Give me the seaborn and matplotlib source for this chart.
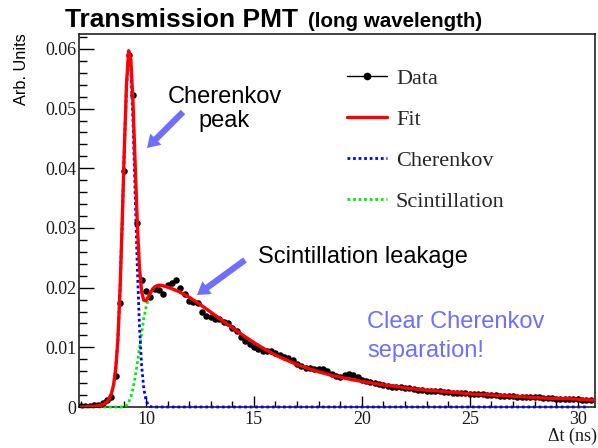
import numpy as np
import pandas as pd
import matplotlib
matplotlib.use("Agg")
import matplotlib.pyplot as plt
from matplotlib.lines import Line2D
from matplotlib.patches import ArrowStyle
from matplotlib.ticker import MultipleLocator, FixedLocator, FixedFormatter
import seaborn as sns

# ---- measured time-difference spectrum: 0.2 ns bins starting at 7.0 ns ----
bin_start = 7.0
bin_width = 0.2
counts = [
    0.0002, 0.0001, 0.0002, 0.0003, 0.0004,   # 7.0 - 7.8
    0.0006, 0.0012, 0.0017, 0.0052, 0.0174,   # 8.0 - 8.8
    0.0395, 0.0590, 0.0523, 0.0309, 0.0213,   # 9.0 - 9.8
    0.0194, 0.0184, 0.0197, 0.0196, 0.0190,   # 10
    0.0204, 0.0207, 0.0213, 0.0199, 0.0190,   # 11
    0.0178, 0.0176, 0.0175, 0.0160, 0.0152,   # 12
    0.0150, 0.0148, 0.0147, 0.0143, 0.0140,   # 13
    0.0132, 0.0127, 0.0118, 0.0110, 0.0106,   # 14
    0.0101, 0.0097, 0.0094, 0.0094, 0.0093,   # 15
    0.0090, 0.0087, 0.0084, 0.0082, 0.0078,   # 16
    0.0072, 0.0068, 0.0066, 0.0066, 0.0064,   # 17
    0.0064, 0.0063, 0.0060, 0.0056, 0.0052,   # 18
    0.0050, 0.0054, 0.0055, 0.0054, 0.0050,   # 19
    0.0046, 0.0043, 0.0042, 0.0041, 0.0039,   # 20
    0.0037, 0.0035, 0.0034, 0.0034, 0.0033,   # 21
    0.0032, 0.0031, 0.0030, 0.0029, 0.0028,   # 22
    0.0027, 0.0027, 0.0026, 0.0026, 0.0025,   # 23
    0.0025, 0.0024, 0.0024, 0.0023, 0.0024,   # 24
    0.0022, 0.0021, 0.0022, 0.0021, 0.0020,   # 25
    0.0020, 0.0020, 0.0019, 0.0019, 0.0018,   # 26
    0.0018, 0.0017, 0.0017, 0.0017, 0.0016,   # 27
    0.0016, 0.0016, 0.0015, 0.0015, 0.0015,   # 28
    0.0014, 0.0014, 0.0014, 0.0013, 0.0013,   # 29
    0.0013, 0.0012, 0.0012, 0.0011,           # 30
]

# ---- fitted components, sampled every 0.1 ns up to 11 ns, then every 0.5 ns ----
fit_t_fine = (7.0, 11.0, 0.1)
fit_t_coarse = (11.5, 31.0, 0.5)
cherenkov = [
    0.0000, 0.0000, 0.0000, 0.0001, 0.0001, 0.0001, 0.0001, 0.0002, 0.0002, 0.0003,
    0.0004, 0.0006, 0.0009, 0.0014, 0.0022, 0.0037, 0.0063, 0.0112, 0.0195, 0.0309,
    0.0433, 0.0538, 0.0589, 0.0566, 0.0480, 0.0358, 0.0235, 0.0136, 0.0069, 0.0031,
    0.0012, 0.0004, 0.0001, 0.0000, 0.0000, 0.0000, 0.0000, 0.0000, 0.0000, 0.0000,
    0.0000,
] + [0.0] * 40
scintillation = [0.0] * 21 + [
    0.0003, 0.0008, 0.0017, 0.0031, 0.0050, 0.0073, 0.0098, 0.0124, 0.0148, 0.0166,
    0.0180, 0.0190, 0.0197, 0.0201, 0.0203, 0.0204, 0.0204, 0.0203, 0.0202, 0.0201,
    # 11.5 ns onwards
    0.0194, 0.0184, 0.0172, 0.0159, 0.0146, 0.0133, 0.0120, 0.0108, 0.0097, 0.0087,
    0.0079, 0.0071, 0.0065, 0.0059, 0.0054, 0.0050, 0.0046, 0.0043, 0.0040, 0.0037,
    0.0035, 0.0032, 0.0030, 0.0028, 0.0027, 0.0025, 0.0024, 0.0022, 0.0021, 0.0020,
    0.0019, 0.0018, 0.0017, 0.0016, 0.0015, 0.0014, 0.0014, 0.0013, 0.0012, 0.0011,
]

y_ticks = [0.0, 0.01, 0.02, 0.03, 0.04, 0.05, 0.06]
y_tick_labels = ["0", "0.01", "0.02", "0.03", "0.04", "0.05", "0.06"]
x_ticks = [10, 15, 20, 25, 30]
x_tick_labels = ["10", "15", "20", "25", "30"]

# ---- assemble tables ----
t_bins = np.round(bin_start + bin_width * np.arange(len(counts)), 2)
data = pd.DataFrame({"t": t_bins, "y": counts})

a, b, s = fit_t_fine
c, d, s2 = fit_t_coarse
fit_t = np.round(np.concatenate([np.arange(a, b + s / 2, s),
                                 np.arange(c, d + s2 / 2, s2)]), 2)
fit = pd.DataFrame({"t": fit_t, "cher": cherenkov, "scint": scintillation})
fit["total"] = fit["cher"] + fit["scint"]
fit_in = fit[fit["t"] <= 30.8]

# ---- figure ----
W, H = 598, 448
sns.set_theme(style="white")
plt.rcParams["font.family"] = ["Liberation Serif", "DejaVu Serif"]
plt.rcParams["axes.linewidth"] = 1.2

fig = plt.figure(figsize=(W / 100, H / 100), dpi=100)
ax = fig.add_axes([79 / W, 1 - 407 / H, (595 - 79) / W, (407 - 34) / H])


def px(x, y):
    """Top-left pixel position -> figure fraction."""
    return x / W, 1 - y / H


dot = (0, (1, 1))
sns.lineplot(data=fit_in, x="t", y="scint", ax=ax, color="#00ee00", lw=2.0,
             linestyle=dot, zorder=2.6, clip_on=False)
sns.lineplot(data=fit_in, x="t", y="cher", ax=ax, color="#0000ff", lw=2.0,
             linestyle=dot, zorder=2.7, clip_on=False)
sns.scatterplot(data=data, x="t", y="y", ax=ax, color="black", s=22,
                linewidth=0, zorder=3)
sns.lineplot(data=fit, x="t", y="total", ax=ax, color="#ff0000", lw=2.4,
             zorder=4)

ax.set_xlim(6.9, 30.8)
ax.set_ylim(0, 0.0625)
ax.set_xlabel("")
ax.set_ylabel("")

ax.yaxis.set_major_locator(FixedLocator(y_ticks))
ax.yaxis.set_major_formatter(FixedFormatter(y_tick_labels))
ax.yaxis.set_minor_locator(MultipleLocator(0.002))
ax.xaxis.set_major_locator(FixedLocator(x_ticks))
ax.xaxis.set_major_formatter(FixedFormatter(x_tick_labels))
ax.xaxis.set_minor_locator(MultipleLocator(1))

ax.tick_params(axis="both", which="both", direction="in", color="black",
               width=1.0, labelsize=13, labelcolor="#1a1a1a")
ax.tick_params(axis="y", which="major", length=11, pad=2)
ax.tick_params(axis="y", which="minor", length=5.8)
ax.tick_params(axis="x", which="major", length=8, pad=3)
ax.tick_params(axis="x", which="minor", length=4.3)
ax.tick_params(left=True, bottom=True, top=False, right=False)
ax.tick_params(which="minor", left=True, bottom=True, top=False, right=False)
for sp in ax.spines.values():
    sp.set_color("#222222")
    sp.set_visible(True)

# ---- legend ----
handles = [
    Line2D([], [], color="black", lw=1.0, marker="o", markersize=4.5),
    Line2D([], [], color="#ff0000", lw=2.4),
    Line2D([], [], color="#0000ff", lw=2.0, linestyle=dot),
    Line2D([], [], color="#00ee00", lw=2.0, linestyle=dot),
]
labels = ["Data", "Fit", "Cherenkov", "Scintillation"]
fig.legend(handles, labels, loc="upper left", bbox_to_anchor=px(347, 68),
           frameon=False, fontsize=16, handlelength=1.8, handletextpad=0.4,
           labelspacing=0.93, borderpad=0, borderaxespad=0)

# ---- texts ----
sans = ["Liberation Sans", "DejaVu Sans"]
fig.text(*px(65, 27), "Transmission PMT", family=sans, weight="bold",
         fontsize=19, ha="left", va="baseline", color="black")
fig.text(*px(308, 27), "(long wavelength)", family=sans, weight="bold",
         fontsize=14.8, ha="left", va="baseline", color="black")
fig.text(*px(21, 33), "Arb. Units", family=sans, fontsize=11.8,
         rotation=90, ha="center", va="top", color="black")
fig.text(*px(597, 436), "\u0394t (ns)", fontsize=13, ha="right",
         va="center", color="#1a1a1a")

fig.text(*px(224.5, 103), "Cherenkov", family=sans, fontsize=17,
         ha="center", va="baseline", color="black")
fig.text(*px(224.5, 127), "peak", family=sans, fontsize=17,
         ha="center", va="baseline", color="black")
fig.text(*px(258, 263), "Scintillation leakage", family=sans, fontsize=17,
         ha="left", va="baseline", color="black")
violet = "#6e6eff"
fig.text(*px(367, 328), "Clear Cherenkov", family=sans, fontsize=17,
         ha="left", va="baseline", color=violet)
fig.text(*px(367, 357), "separation!", family=sans, fontsize=17,
         ha="left", va="baseline", color=violet)

arrow = ArrowStyle.Simple(head_length=0.9, head_width=1.15, tail_width=0.45)
for tail, tip in [((183, 112), (147, 148)), ((245, 260), (197, 295))]:
    ax.annotate("", xy=px(*tip), xycoords="figure fraction",
                xytext=px(*tail), textcoords="figure fraction",
                arrowprops=dict(arrowstyle=arrow, color=violet, lw=0,
                                mutation_scale=10, shrinkA=0, shrinkB=0),
                zorder=6)

fig.savefig("out.png", dpi=100)
